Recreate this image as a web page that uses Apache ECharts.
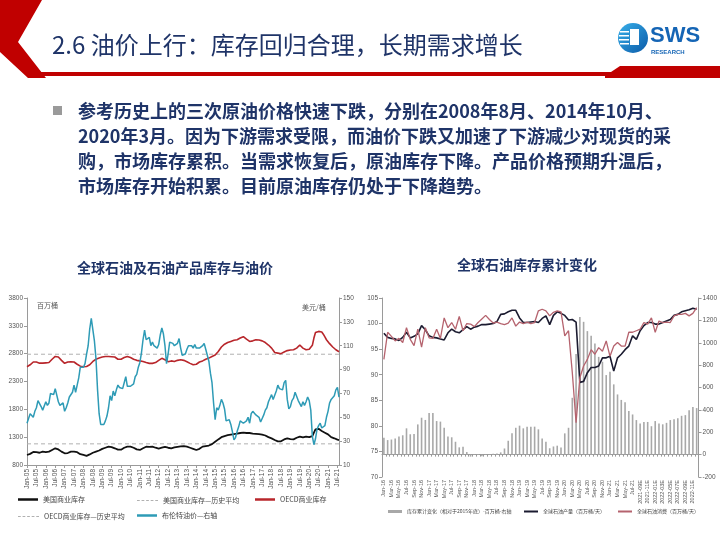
<!DOCTYPE html>
<html><head><meta charset="utf-8">
<script src="https://cdn.jsdelivr.net/npm/echarts@6/dist/echarts.min.js"></script>
<style>html,body{margin:0;padding:0;background:#fff;}#c{width:720px;height:540px;}</style>
</head><body><div id="c"></div>
<script>
// ---------- DATA ----------
const monthNames = ['Jan','Feb','Mar','Apr','May','Jun','Jul','Aug','Sep','Oct','Nov','Dec'];
// Left chart: Jan-05 .. Aug-21
const leftMonths = [];
for (let y = 2005; y <= 2021; y++) for (let m = 0; m < 12; m++) { if (y === 2021 && m > 7) break; leftMonths.push(monthNames[m] + '-' + String(y).slice(2)); }

const usStocks = [
 980,990,1000,1020,1035,1040,1030,1025,1020,1030,1040,1035,
 1030,1035,1040,1050,1070,1090,1100,1099,1080,1060,1040,1020,
 1010,1000,1015,1030,1040,1045,1040,1040,1030,1010,995,985,
 980,970,965,975,990,1005,1020,1040,1040,1050,1060,1080,
 1090,1100,1110,1125,1130,1129,1120,1110,1100,1085,1075,1069,
 1075,1090,1110,1125,1130,1129,1130,1125,1110,1095,1080,1069,
 1070,1080,1100,1120,1129,1130,1125,1120,1129,1120,1110,1099,
 1095,1100,1110,1120,1125,1120,1110,1100,1099,1105,1115,1120,
 1125,1130,1135,1141,1140,1130,1129,1120,1110,1100,1090,1080,
 1069,1075,1090,1110,1130,1140,1141,1145,1150,1160,1175,1195,
 1219,1240,1260,1280,1300,1310,1320,1330,1335,1340,1345,1350,
 1355,1360,1365,1369,1375,1381,1380,1378,1375,1381,1375,1370,
 1365,1362,1360,1358,1355,1351,1345,1340,1330,1315,1300,1290,
 1279,1265,1250,1235,1225,1219,1225,1240,1260,1275,1279,1270,
 1265,1262,1261,1270,1290,1300,1310,1300,1295,1305,1309,1300,
 1300,1305,1320,1380,1440,1459,1450,1430,1410,1395,1380,1369,
 1350,1320,1300,1290,1280,1270,1255,1249
];
const oecdStocks = [
 2566,2575,2600,2625,2650,2660,2650,2640,2630,2645,2630,2620,
 2635,2625,2640,2660,2700,2730,2750,2758,2740,2710,2680,2650,
 2626,2640,2650,2660,2656,2660,2650,2630,2610,2590,2575,2566,
 2566,2560,2570,2570,2600,2630,2660,2686,2700,2710,2720,2730,
 2740,2746,2750,2760,2750,2758,2745,2750,2740,2720,2700,2686,
 2700,2715,2730,2746,2750,2740,2730,2716,2700,2690,2680,2686,
 2670,2656,2660,2650,2640,2630,2626,2630,2626,2620,2640,2660,
 2680,2700,2716,2710,2690,2670,2656,2660,2670,2665,2660,2670,
 2680,2686,2690,2686,2680,2660,2656,2640,2626,2610,2600,2596,
 2610,2630,2650,2656,2670,2690,2700,2716,2720,2730,2750,2760,
 2776,2800,2840,2880,2920,2950,2970,2985,3000,3010,3020,3030,
 3040,3045,3050,3060,3080,3095,3105,3090,3060,3040,3020,3015,
 3030,3045,3050,3040,3045,3050,3030,3020,3000,2980,2955,2930,
 2900,2860,2820,2806,2810,2806,2800,2815,2830,2845,2855,2865,
 2865,2860,2870,2880,2900,2930,2955,2940,2900,2880,2870,2885,
 2880,2895,2950,3080,3180,3195,3200,3195,3190,3150,3100,3050,
 3015,2980,2950,2920,2895,2870,2850,2835
];
const brent = [
 45,46,53,52,50,55,58,64,63,59,56,57,
 63,60,62,70,71,69,74,73,63,60,59,62,
 55,58,62,67,68,71,77,71,77,83,92,91,
 92,95,103,110,124,133,134,114,99,73,53,44,
 45,44,47,51,58,68,64,72,68,73,77,75,
 76,74,79,84,76,75,76,77,78,84,86,92,
 96,104,115,123,115,114,117,110,113,110,110,108,
 111,119,125,120,110,95,103,113,113,112,110,109,
 112,116,108,102,103,103,107,110,111,110,108,111,
 108,109,108,108,110,112,107,102,97,87,79,62,
 48,58,56,60,65,62,57,47,48,48,44,38,
 31,33,38,42,47,48,45,46,47,50,45,53,
 55,55,52,52,50,46,49,52,56,58,63,64,
 69,65,66,72,77,74,74,73,79,81,65,57,
 59,64,66,71,71,64,64,59,63,60,63,67,
 64,56,34,27,32,40,43,45,41,40,43,50,
 55,62,65,65,68,73,75,67
];
const usAvg = 1180;
const oecdAvg = 2790;
const leftTicks = {stockMin:800, stockMax:3800, stockStep:500, priceMin:10, priceMax:150, priceStep:20};

// Right chart: Jan-16 .. Dec-22 (2021-09 onward are estimates)
const rightMonths = [];
for (let y = 2016; y <= 2022; y++) for (let m = 0; m < 12; m++) {
  if (y > 2021 || (y === 2021 && m >= 8)) rightMonths.push(y + '-' + String(m + 1).padStart(2, '0') + 'E');
  else rightMonths.push(monthNames[m] + '-' + String(y).slice(2));
}
const invChange = [
 151,130,135,145,161,173,235,182,185,270,330,310,
 371,371,300,295,240,161,155,115,65,70,23,-18,
 5,5,-15,5,5,8,10,20,55,124,190,240,
 259,235,250,250,250,226,145,115,57,73,80,63,
 190,240,508,900,1231,1187,1104,1063,994,874,830,711,
 740,628,538,489,468,389,359,309,278,292,292,254,
 300,278,271,284,309,317,326,347,353,396,425,416
];
const production = [
 98.1,97.3,97.1,97.0,96.7,97.3,98.3,97.2,97.5,98.0,99.6,98.8,
 97.6,97.3,97.2,97.0,96.8,98.2,98.9,98.4,98.2,98.8,99.4,98.9,
 99.3,99.5,99.8,99.8,99.9,100.0,100.4,101.8,101.9,102.3,102.6,102.6,
 101.1,100.2,100.2,100.3,100.4,100.2,101.0,101.5,99.8,101.6,102.3,102.0,
 101.6,100.7,100.8,100.3,88.5,88.7,90.4,91.4,91.4,91.7,93.3,93.3,
 93.6,90.7,93.3,94.0,94.9,95.6,97.6,96.9,98.6,99.6,100.2,100.2,
 99.9,99.9,100.2,100.5,100.8,101.6,101.8,102.3,102.5,102.7,103.0,102.8
];
const consumption = [
 93.0,98.3,97.5,96.6,97.1,96.3,99.2,96.9,95.7,98.9,95.4,99.2,
 97.2,97.1,98.9,97.1,101.1,99.2,100.2,98.9,101.4,98.6,100.0,99.9,
 99.4,100.2,100.9,101.6,100.8,100.1,100.3,100.0,99.8,100.1,101.1,99.5,
 100.3,100.0,100.3,100.0,100.2,102.5,102.8,102.5,101.5,102.2,102.5,102.3,
 97.6,98.6,90.4,80.6,89.4,91.7,93.0,94.9,94.0,95.3,94.6,96.6,
 93.6,95.6,96.3,95.6,95.6,98.3,98.3,98.6,98.9,100.2,99.9,101.1,
 98.3,100.5,100.2,100.3,100.2,101.5,101.8,101.8,102.0,101.5,102.0,103.1
];
const rightTicks = {prodMin:70, prodMax:105, prodStep:5, invMin:-200, invMax:1400, invStep:200};

const bodyLines = [
 '参考历史上的三次原油价格快速下跌，分别在2008年8月、2014年10月、',
 '2020年3月。因为下游需求受限，而油价下跌又加速了下游减少对现货的采',
 '购，市场库存累积。当需求恢复后，原油库存下降。产品价格预期升温后，',
 '市场库存开始积累。目前原油库存仍处于下降趋势。'
];

// ---------- CHART ----------
const CJK = '"Noto Sans CJK SC","Noto Sans",sans-serif';
const navy = '#1F3468';
const axisGray = '#9a9a9a';
const lbl = '#555';
const chart = echarts.init(document.getElementById('c'));

const graphic = [
  {type:'polygon', shape:{points:[[0,0],[42,0],[18,42],[46,78],[28,78],[0,52]]}, style:{fill:'#C00000'}},
  {type:'rect', shape:{x:28, y:72, width:590, height:4}, style:{fill:'#C00000'}},
  {type:'polygon', shape:{points:[[605,76],[620,66],[720,66],[720,78],[605,78]]}, style:{fill:'#C00000'}},
  {type:'text', x:52, y:45, style:{text:'2.6 油价上行：库存回归合理，长期需求增长', fill:navy, font:'24px ' + CJK, textVerticalAlign:'middle'}},
  // logo
  {type:'circle', shape:{cx:633, cy:38, r:15}, style:{fill:new echarts.graphic.LinearGradient(0,0,1,1,[{offset:0,color:'#38b0ea'},{offset:1,color:'#0b5aa8'}])}},
  {type:'rect', shape:{x:630, y:29, width:9, height:16}, style:{fill:'#fff'}},
  {type:'rect', shape:{x:620, y:31, width:9, height:1.5}, style:{fill:'#fff'}},
  {type:'rect', shape:{x:619, y:35, width:10, height:1.5}, style:{fill:'#fff'}},
  {type:'rect', shape:{x:619, y:39, width:10, height:1.5}, style:{fill:'#fff'}},
  {type:'rect', shape:{x:620, y:43, width:9, height:1.5}, style:{fill:'#fff'}},
  {type:'text', x:650, y:36, style:{text:'SWS', fill:'#1565b5', font:'bold 22px Arial, "Liberation Sans", sans-serif', textVerticalAlign:'middle'}},
  {type:'text', x:651, y:52, style:{text:'RESEARCH', fill:'#1565b5', font:'bold 6px Arial, "Liberation Sans", sans-serif', textVerticalAlign:'middle'}},
  // bullet
  {type:'rect', shape:{x:53, y:106, width:9, height:9}, style:{fill:'#9a9a9a'}},
  // chart titles
  {type:'text', x:175, y:268, style:{text:'全球石油及石油产品库存与油价', fill:navy, font:'bold 14px ' + CJK, textAlign:'center', textVerticalAlign:'middle'}},
  {type:'text', x:527, y:265, style:{text:'全球石油库存累计变化', fill:navy, font:'bold 14px ' + CJK, textAlign:'center', textVerticalAlign:'middle'}},
  // units
  {type:'text', x:37, y:305, style:{text:'百万桶', fill:'#555', font:'7px ' + CJK, textVerticalAlign:'middle'}},
  {type:'text', x:302, y:307, style:{text:'美元/桶', fill:'#555', font:'7px ' + CJK, textVerticalAlign:'middle'}}
];
bodyLines.forEach((t, i) => graphic.push({type:'text', x:78, y:111 + i * 25, style:{text:t, fill:navy, font:'bold 18px ' + CJK, textVerticalAlign:'middle'}}));

const ICON_SOLID = 'path://M0,0H20V2H0Z';
const ICON_DASH = 'path://M0,0H3V1H0Z M5,0H8V1H5Z M10,0H13V1H10Z M15,0H18V1H15Z M20,0H23V1H20Z';
function legendItem(name, icon, left, top, size, iw, ih) {
  return {data:[{name:name, icon:icon}], left:left, top:top, itemWidth:iw, itemHeight:ih, itemGap:4, padding:0,
          symbolKeepAspect:false,
          textStyle:{fontSize:size, color:'#444', fontFamily:CJK}, selectedMode:false};
}
const plain = (v) => String(v);
const valueAxisBase = (grid, pos, min, max, step) => ({
  type:'value', gridIndex:grid, position:pos, min:min, max:max, interval:step,
  axisLine:{show:true, lineStyle:{color:axisGray}}, axisTick:{show:true, length:3, lineStyle:{color:axisGray}},
  splitLine:{show:false}, axisLabel:{fontSize:6.5, color:lbl, margin:4, fontFamily:'Arial', formatter:plain}
});

const option = {
  animation:false,
  backgroundColor:'#fff',
  graphic:graphic,
  legend:[
    legendItem('美国商业库存', ICON_SOLID, 18, 496, 7, 20, 2.5),
    legendItem('美国商业库存—历史平均', ICON_DASH, 137, 497, 7, 21, 1.2),
    legendItem('OECD商业库存', ICON_SOLID, 255, 496, 7, 20, 2.5),
    legendItem('OECD商业库存—历史平均', ICON_DASH, 18, 513, 7, 21, 1.2),
    legendItem('布伦特油价—右轴', ICON_SOLID, 137, 512, 7, 20, 2.5),
    legendItem('库存累计变化（相对于2015年底）-百万桶-右轴', ICON_SOLID, 388, 509, 5, 14, 3),
    legendItem('全球石油产量（百万桶/天）', ICON_SOLID, 524, 509, 5, 14, 2),
    legendItem('全球石油消费（百万桶/天）', ICON_SOLID, 618, 509, 5, 14, 2)
  ],
  grid:[{left:27, top:298, width:312, height:167}, {left:382, top:298, width:318, height:179}],
  xAxis:[
    {type:'category', gridIndex:0, data:leftMonths, boundaryGap:false,
     axisLine:{lineStyle:{color:axisGray}}, axisTick:{show:true, length:3, interval:(i)=>i%6===0, lineStyle:{color:axisGray}},
     axisLabel:{interval:(i)=>i%6===0, rotate:90, fontSize:6.5, color:lbl, margin:4, fontFamily:'Arial'}},
    {type:'category', gridIndex:1, data:rightMonths, boundaryGap:true,
     axisLine:{lineStyle:{color:axisGray}}, axisTick:{show:true, length:2, interval:0, lineStyle:{color:axisGray}},
     axisLabel:{interval:1, rotate:90, fontSize:5.5, color:lbl, margin:3, fontFamily:'Arial'}}
  ],
  yAxis:[
    valueAxisBase(0, 'left', leftTicks.stockMin, leftTicks.stockMax, leftTicks.stockStep),
    valueAxisBase(0, 'right', leftTicks.priceMin, leftTicks.priceMax, leftTicks.priceStep),
    valueAxisBase(1, 'left', rightTicks.prodMin, rightTicks.prodMax, rightTicks.prodStep),
    valueAxisBase(1, 'right', rightTicks.invMin, rightTicks.invMax, rightTicks.invStep)
  ],
  series:[
    {name:'美国商业库存—历史平均', type:'line', xAxisIndex:0, yAxisIndex:0, symbol:'none',
     data:[[leftMonths[0], usAvg], [leftMonths[leftMonths.length-1], usAvg]],
     lineStyle:{color:'#b0b0b0', width:1, type:[4,3]}, itemStyle:{color:'#b0b0b0'}},
    {name:'OECD商业库存—历史平均', type:'line', xAxisIndex:0, yAxisIndex:0, symbol:'none',
     data:[[leftMonths[0], oecdAvg], [leftMonths[leftMonths.length-1], oecdAvg]],
     lineStyle:{color:'#b0b0b0', width:1, type:[4,3]}, itemStyle:{color:'#b0b0b0'}},
    {name:'美国商业库存', type:'line', xAxisIndex:0, yAxisIndex:0, symbol:'none', data:usStocks,
     lineStyle:{color:'#111', width:1.8}, itemStyle:{color:'#111'}},
    {name:'OECD商业库存', type:'line', xAxisIndex:0, yAxisIndex:0, symbol:'none', data:oecdStocks,
     lineStyle:{color:'#B8262B', width:1.6}, itemStyle:{color:'#B8262B'}},
    {name:'布伦特油价—右轴', type:'line', xAxisIndex:0, yAxisIndex:1, symbol:'none', data:brent,
     lineStyle:{color:'#2E9BB6', width:1.5}, itemStyle:{color:'#2E9BB6'}},
    {name:'库存累计变化（相对于2015年底）-百万桶-右轴', type:'bar', xAxisIndex:1, yAxisIndex:3, data:invChange,
     barWidth:1.6, itemStyle:{color:'#a8a8a8'}},
    {name:'全球石油产量（百万桶/天）', type:'line', xAxisIndex:1, yAxisIndex:2, symbol:'none', data:production,
     lineStyle:{color:'#1b1b30', width:1.6}, itemStyle:{color:'#1b1b30'}},
    {name:'全球石油消费（百万桶/天）', type:'line', xAxisIndex:1, yAxisIndex:2, symbol:'none', data:consumption,
     lineStyle:{color:'#B5636E', width:1.3}, itemStyle:{color:'#B5636E'}}
  ]
};
chart.setOption(option);
</script></body></html>
